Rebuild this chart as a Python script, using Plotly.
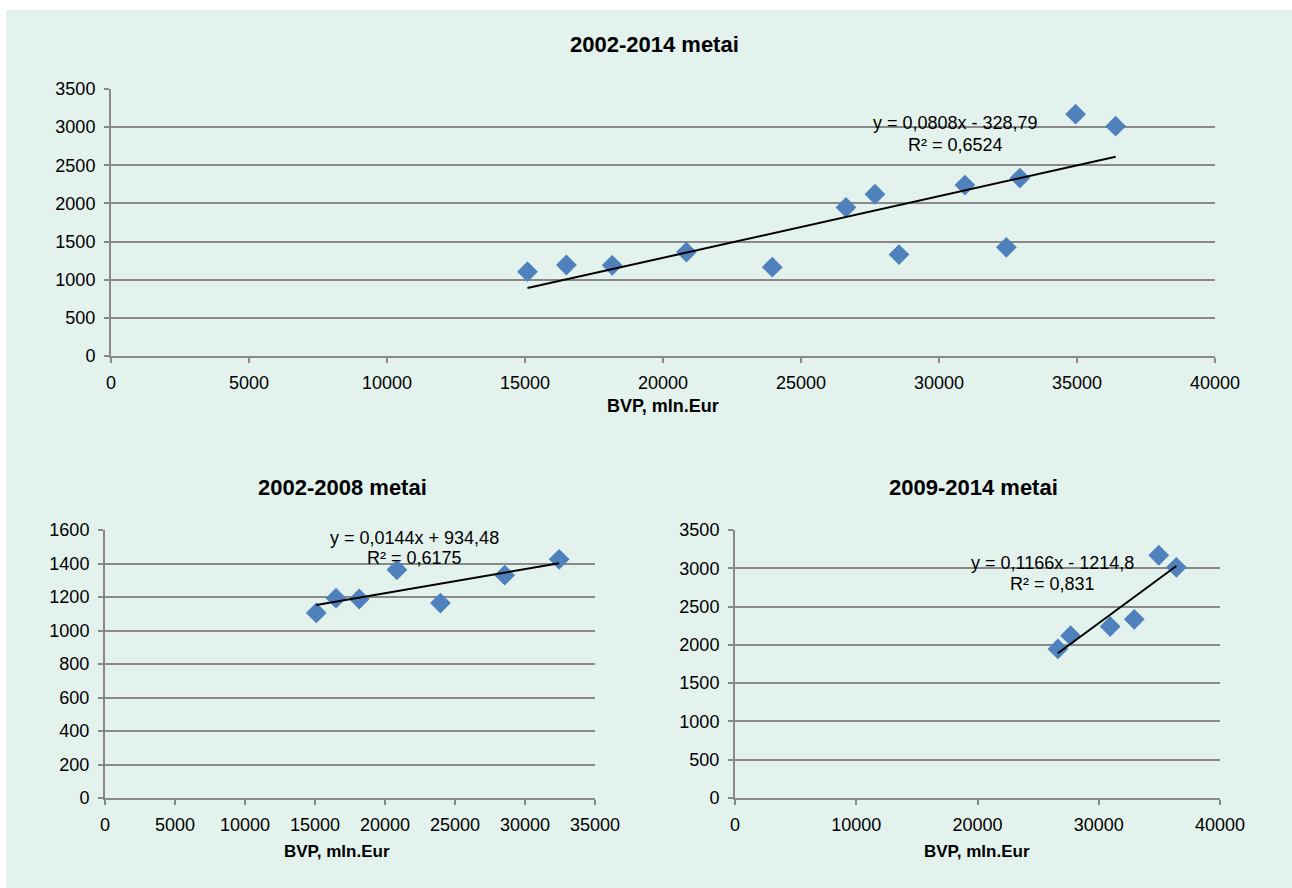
import plotly.graph_objects as go

# GDP (BVP, mln. Eur) and the dependent indicator, by period
bvp_2002_2008 = [15090, 16500, 18160, 20850, 23960, 28550, 32440]
val_2002_2008 = [1105, 1193, 1188, 1362, 1164, 1330, 1425]
bvp_2009_2014 = [26630, 27680, 30940, 32930, 34950, 36400]
val_2009_2014 = [1947, 2120, 2240, 2333, 3170, 3013]

# Linear trend coefficients (slope, intercept) and R² for each panel
trend_all = (0.0808, -328.79, 0.6524)
trend_early = (0.0144, 934.48, 0.6175)
trend_late = (0.1166, -1214.8, 0.831)

panel_titles = ["2002-2014 metai", "2002-2008 metai", "2009-2014 metai"]
x_title = "BVP, mln.Eur"

W, H = 1292, 888
FONT = "Liberation Sans, Arial, sans-serif"
MINT = "#e4f2ed"
GRID = "#898989"
BLUE = "#4f81bd"


def px(x):
    return x / W


def py(y):
    return 1 - y / H


bvp_all = bvp_2002_2008 + bvp_2009_2014
val_all = val_2002_2008 + val_2009_2014

fig = go.Figure()


def add_panel(xs, ys, trend, axis):
    slope, intercept, _ = trend
    fig.add_trace(go.Scatter(
        x=xs, y=ys, mode="markers",
        marker=dict(symbol="diamond", size=16, color=BLUE, line=dict(width=0)),
        xaxis="x" + axis, yaxis="y" + axis, showlegend=False,
    ))
    x0, x1 = min(xs), max(xs)
    fig.add_trace(go.Scatter(
        x=[x0, x1], y=[slope * x0 + intercept, slope * x1 + intercept],
        mode="lines", line=dict(color="black", width=2),
        xaxis="x" + axis, yaxis="y" + axis, showlegend=False,
    ))


add_panel(bvp_all, val_all, trend_all, "")
add_panel(bvp_2002_2008, val_2002_2008, trend_early, "2")
add_panel(bvp_2009_2014, val_2009_2014, trend_late, "3")

axis_common = dict(
    showline=True, linecolor=GRID, linewidth=2,
    ticks="outside", ticklen=5, tickwidth=2, tickcolor=GRID,
    zeroline=False, tickfont=dict(family=FONT, size=18, color="black"),
    tickformat="d", fixedrange=True, automargin=False,
)
xcommon = dict(axis_common, showgrid=False, ticklabelstandoff=4)
ycommon = dict(axis_common, showgrid=True, gridcolor=GRID, gridwidth=2,
               ticklabelstandoff=5)

fig.update_layout(
    width=W, height=H, margin=dict(l=0, r=0, t=0, b=0, pad=0, autoexpand=False),
    paper_bgcolor="white", plot_bgcolor=MINT,
    font=dict(family=FONT, size=18, color="black"),
    xaxis=dict(xcommon, domain=[px(111), px(1215)], range=[0, 40000], dtick=5000, anchor="y"),
    yaxis=dict(ycommon, domain=[py(356), py(89)], range=[0, 3500], dtick=500, anchor="x"),
    xaxis2=dict(xcommon, domain=[px(105), px(595)], range=[0, 35000], dtick=5000, anchor="y2"),
    yaxis2=dict(ycommon, domain=[py(798), py(530)], range=[0, 1600], dtick=200, anchor="x2"),
    xaxis3=dict(xcommon, domain=[px(735), px(1220)], range=[0, 40000], dtick=10000, anchor="y3"),
    yaxis3=dict(ycommon, domain=[py(798), py(530)], range=[0, 3500], dtick=500, anchor="x3"),
)

# mint chart area behind everything
fig.add_shape(type="rect", xref="paper", yref="paper", x0=px(6), x1=1, y0=0, y1=py(10),
              fillcolor=MINT, line=dict(width=0), layer="below")


def label(x, y, text, size=18, bold=False):
    fig.add_annotation(
        x=px(x), y=py(y), xref="paper", yref="paper", showarrow=False,
        text=f"<b>{text}</b>" if bold else text,
        font=dict(family=FONT, size=size, color="black"),
        xanchor="center", yanchor="middle",
    )


def fmt(v, digits):
    return f"{abs(v):.{digits}f}".replace(".", ",")


def equation(trend, cx, y1, y2, sdig, idig, rdig):
    slope, intercept, r2 = trend
    sign = "-" if intercept < 0 else "+"
    label(cx, y1, f"y = {fmt(slope, sdig)}x {sign} {fmt(intercept, idig)}")
    label(cx, y2, f"R² = {fmt(r2, rdig)}")


# panel titles and axis titles
label(654, 44, panel_titles[0], size=22, bold=True)
label(342, 487, panel_titles[1], size=22, bold=True)
label(973, 487, panel_titles[2], size=22, bold=True)
label(663, 406, x_title, bold=True)
label(337, 851, x_title, size=17, bold=True)
label(977, 851, x_title, size=17, bold=True)

equation(trend_all, 955, 123, 145, 4, 2, 4)
equation(trend_early, 414, 538, 558, 4, 2, 4)
equation(trend_late, 1052, 563, 584, 4, 1, 3)

fig.write_html("out.html")
